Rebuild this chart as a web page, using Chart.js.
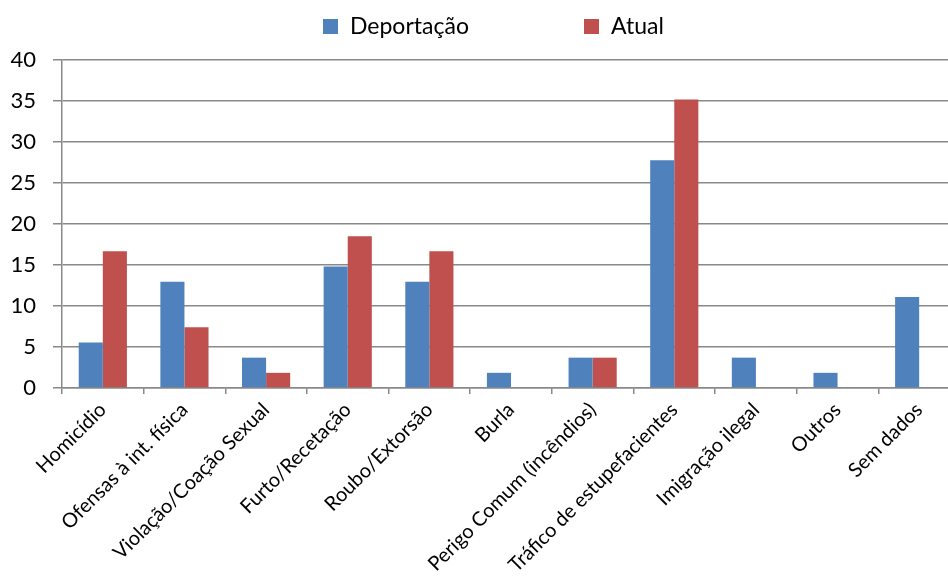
<!DOCTYPE html>
<html>
<head>
<meta charset="utf-8">
<script src="https://cdn.jsdelivr.net/npm/chart.js@4"></script>
<style>
    html, body { margin: 0; padding: 0; background: #fff; overflow: hidden; }
    #wrap { position: relative; width: 960px; height: 576px; }
    #legend { position: absolute; top: 11px; left: 0; width: 960px; font-family: Lato, sans-serif; font-size: 23px; color: #000; }
    .item { position: absolute; top: 0; white-space: nowrap; line-height: 28px; }
    .box { display: inline-block; width: 15px; height: 15px; margin-right: 12px; vertical-align: 0px; }
</style>
</head>
<body>
<div id="wrap">
    <canvas id="chart" width="960" height="576"></canvas>
    <div id="legend"></div>
</div>
<script>
// categorias e valores (%)
const categories = [
    'Homicídio', 'Ofensas à int. física', 'Violação/Coação Sexual', 'Furto/Recetação',
    'Roubo/Extorsão', 'Burla', 'Perigo Comum (incêndios)', 'Tráfico de estupefacientes',
    'Imigração ilegal', 'Outros', 'Sem dados'
];
const deportacao = [5.56, 12.96, 3.7, 14.81, 12.96, 1.85, 3.7, 27.78, 3.7, 1.85, 11.11];
const atual = [16.67, 7.41, 1.85, 18.52, 16.67, 0, 3.7, 35.19, 0, 0, 0];
const seriesNames = ['Deportação', 'Atual'];
const seriesColors = ['#4F81BD', '#C0504D'];
const yTicks = [0, 5, 10, 15, 20, 25, 30, 35, 40];

const gridColor = '#898989';

function renderLegend() {
    const lg = document.getElementById('legend');
    const lefts = [323, 584];
    lg.innerHTML = seriesNames.map((n, i) =>
        `<div class="item" style="left:${lefts[i]}px"><span class="box" style="background:${seriesColors[i]}"></span>${n}</div>`
    ).join('');
}

window.onload = () => {
    renderLegend();
    const ctx = document.getElementById('chart').getContext('2d');
    new Chart(ctx, {
        type: 'bar',
        data: {
            labels: categories,
            datasets: [
                { label: seriesNames[0], data: deportacao, backgroundColor: seriesColors[0] },
                { label: seriesNames[1], data: atual, backgroundColor: seriesColors[1] }
            ]
        },
        options: {
            responsive: false,
            animation: false,
            layout: { padding: { top: 60, right: 0, left: 0, bottom: 0 } },
            datasets: { bar: { categoryPercentage: 0.59, barPercentage: 1.0, borderWidth: 0 } },
            plugins: {
                legend: { display: false },
                tooltip: { enabled: false }
            },
            scales: {
                x: {
                    offset: true,
                    grid: { display: true, drawOnChartArea: false, drawTicks: true, tickLength: 6, color: gridColor, lineWidth: 1.5, offset: true },
                    border: { color: gridColor, width: 1.5 },
                    ticks: {
                        minRotation: 45, maxRotation: 45, autoSkip: false, padding: 4,
                        color: '#000', font: { family: 'Lato', size: 20 }
                    },
                    afterFit: (s) => { s.height = 188; }
                },
                y: {
                    min: 0, max: 40,
                    afterBuildTicks: (s) => { s.ticks = yTicks.map(v => ({ value: v })); },
                    grid: { color: gridColor, lineWidth: 1.5, tickLength: 9 },
                    border: { color: gridColor, width: 1.5 },
                    ticks: { padding: 17, color: '#000', font: { family: 'Lato', size: 22 } },
                    afterFit: (s) => { s.width = 62; }
                }
            }
        }
    });
};
</script>
</body>
</html>
